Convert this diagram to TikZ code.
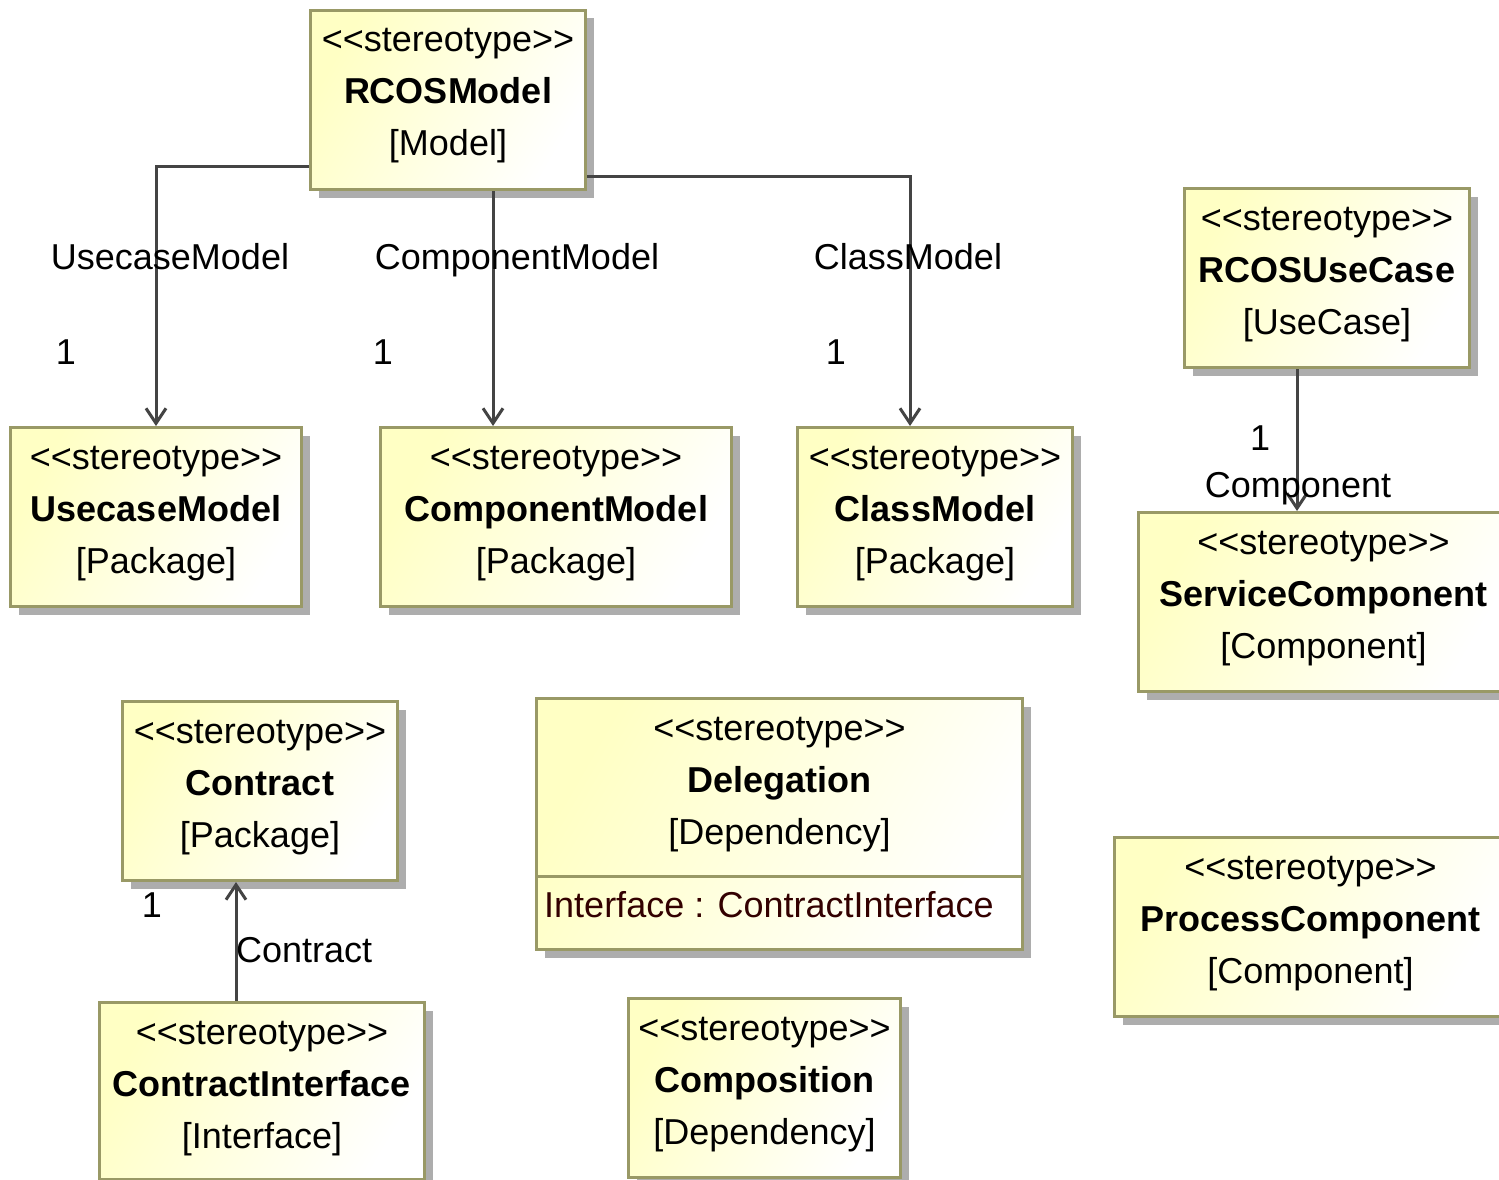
\documentclass[tikz,border=0pt]{standalone}
\usepackage{fontspec}
\setmainfont{Liberation Sans}[Ligatures=TeXOff]
\usetikzlibrary{arrows.meta,shadows,calc}

\definecolor{boxfill}{HTML}{FFFFC4}
\definecolor{boxline}{HTML}{999966}
\definecolor{boxshadow}{HTML}{ADADAD}
\definecolor{wire}{HTML}{444444}
\definecolor{attrtext}{HTML}{330000}

% three centred text lines of a stereotype box
\newcommand\stlines[3]{%
  \node[stereo] (#1-st) at ($(#1.north)+(0,43)$) {<<stereotype>>};
  \node[sname]  (#1-nm) at ($(#1.north)+(0,95)$) {#2};
  \node[stereo] (#1-ty) at ($(#1.north)+(0,147)$) {[#3]};
}

\begin{document}
\begin{tikzpicture}[x=1pt,y=-1pt,
  umlbox/.style={draw=boxline, line width=3pt, left color=boxfill, right color=white,
    shading angle=60, inner sep=0pt, anchor=north west, minimum height=179pt,
    drop shadow={shadow xshift=8pt, shadow yshift=-8pt, fill=boxshadow, opacity=1}},
  stereo/.style={anchor=base, inner sep=0pt, font=\fontsize{36}{40}\selectfont},
  sname/.style={stereo, font=\fontsize{36}{40}\selectfont\bfseries},
  lbl/.style={anchor=base, inner sep=0pt, font=\fontsize{36}{40}\selectfont},
  assoc/.style={draw=wire, line width=3pt, -{Straight Barb[length=15pt,width=20pt]}}]

\fill[white] (0,0) rectangle (1499,1180);
\clip (0,0) rectangle (1499,1180);

% boxes
\node[umlbox, minimum width=275pt] (rcos) at (309,9) {};
\node[umlbox, minimum width=291pt] (ucm)  at (9,426) {};
\node[umlbox, minimum width=351pt] (cpm)  at (379,426) {};
\node[umlbox, minimum width=275pt] (clm)  at (796,426) {};
\node[umlbox, minimum width=285pt] (ruc)  at (1183,187) {};
\node[umlbox, minimum width=370pt] (svc)  at (1137,511) {};
\node[umlbox, minimum width=275pt] (con)  at (121,700) {};
\node[umlbox, minimum width=486pt, minimum height=251pt] (del) at (535,697) {};
\node[umlbox, minimum width=392pt] (prc)  at (1113,836) {};
\node[umlbox, minimum width=325pt, minimum height=177pt] (ci) at (98,1001) {};
\node[umlbox, minimum width=272pt] (cmp)  at (627,997) {};

\stlines{rcos}{RCOSModel}{Model}
\stlines{ucm}{UsecaseModel}{Package}
\stlines{cpm}{ComponentModel}{Package}
\stlines{clm}{ClassModel}{Package}
\stlines{ruc}{RCOSUseCase}{UseCase}
\stlines{svc}{ServiceComponent}{Component}
\stlines{con}{Contract}{Package}
\stlines{del}{Delegation}{Dependency}
\stlines{prc}{ProcessComponent}{Component}
\stlines{ci}{ContractInterface}{Interface}
\stlines{cmp}{Composition}{Dependency}

% attribute compartment of Delegation
\draw[boxline, line width=3pt] ($(del.north west)+(0,179)$) coordinate (del-sl)
  -- ($(del.north east)+(0,179)$) coordinate (del-sr);
\node[lbl, anchor=base west, text=attrtext] (del-at) at ($(del-sl)+(9,41)$)
  {Interface : ContractInterface};

% associations
\draw[assoc] ($(rcos.north west)+(0,157)$) -| ($(ucm.north west)+(147,0)$);
\draw[assoc] ($(rcos.south west)+(184,0)$) -- ($(cpm.north west)+(114,0)$);
\draw[assoc] ($(rcos.north east)+(0,167)$) -| ($(clm.north west)+(114,0)$);
\draw[assoc] ($(ruc.south west)+(114,0)$) -- ($(svc.north west)+(160,0)$);
\draw[assoc] ($(ci.north west)+(138,0)$) -- ($(con.south west)+(115,0)$);

% association labels
\node[lbl] (l-uc)  at (170,269) {UsecaseModel};
\node[lbl] (m-uc)  at (66,364)  {1};
\node[lbl] (l-cp)  at (517,269) {ComponentModel};
\node[lbl] (m-cp)  at (383,364) {1};
\node[lbl] (l-cl)  at (908,269) {ClassModel};
\node[lbl] (m-cl)  at (836,364) {1};
\node[lbl] (m-sv)  at (1260,450) {1};
\node[lbl] (l-sv)  at (1298,497) {Component};
\node[lbl] (m-co)  at (152,917) {1};
\node[lbl, anchor=base west] (l-co) at (236,962) {Contract};
\end{tikzpicture}
\end{document}
